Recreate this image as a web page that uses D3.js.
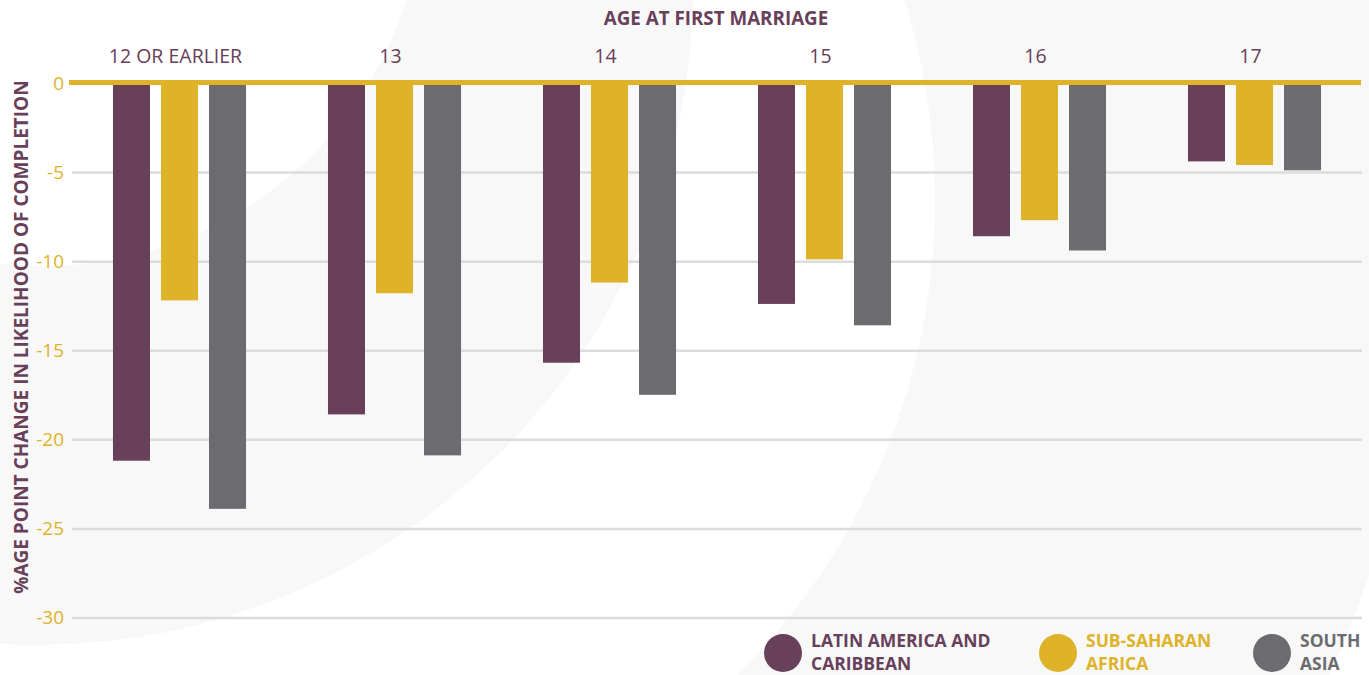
<!DOCTYPE html>
<html>
<head>
<meta charset="utf-8">
<script src="https://cdn.jsdelivr.net/npm/d3@7"></script>
<style>
  body { margin: 0; background: #fff; }
  text { font-family: "Open Sans", "Noto Sans", sans-serif; }
</style>
</head>
<body>
<div id="chart"></div>
<script>
// chart size
var svgWidth = 1369;
var svgHeight = 675;

// data
var categories = ["12 OR EARLIER", "13", "14", "15", "16", "17"];
var seriesNames = ["LATIN AMERICA AND CARIBBEAN", "SUB-SAHARAN AFRICA", "SOUTH ASIA"];
var latinAmerica = [-21.2, -18.6, -15.7, -12.4, -8.6, -4.4];
var subSaharan = [-12.2, -11.8, -11.2, -9.9, -7.7, -4.6];
var southAsia = [-23.9, -20.9, -17.5, -13.6, -9.4, -4.9];
var yTicks = [0, -5, -10, -15, -20, -25, -30];

var colors = ["#68405a", "#deb329", "#6c6c70"];
var purpleText = "#68405a";

var margin = { top: 83, right: 7, bottom: 58, left: 72 };
var chartWidth = svgWidth - margin.left - margin.right;
var chartHeight = svgHeight - margin.top - margin.bottom;

var svg = d3.select("#chart")
  .append("svg")
  .attr("width", svgWidth)
  .attr("height", svgHeight);

// background decoration: light grey rings
function circlePath(cx, cy, r) {
  var p = d3.path();
  p.moveTo(cx + r, cy);
  p.arc(cx, cy, r, 0, 2 * Math.PI);
  p.closePath();
  return p.toString();
}

var bg = svg.append("g");
bg.append("path")
  .attr("fill", "#f8f8f8")
  .attr("fill-rule", "evenodd")
  .attr("d", circlePath(266, 200, 1165) + circlePath(266, 200, 669));
bg.append("path")
  .attr("fill", "#f8f8f8")
  .attr("fill-rule", "evenodd")
  .attr("d", circlePath(36, -12, 657) + circlePath(44, -114, 380));

var chartGroup = svg.append("g")
  .attr("transform", `translate(${margin.left}, ${margin.top})`);

// scales
var x0 = d3.scaleBand()
  .domain(categories)
  .range([0, chartWidth])
  .paddingInner(0.33)
  .paddingOuter(0.165);

var x1 = d3.scaleBand()
  .domain(seriesNames)
  .range([0, x0.bandwidth()])
  .paddingInner(0.229)
  .paddingOuter(0.1145);

var y = d3.scaleLinear()
  .domain([-30, 0])
  .range([chartHeight + 0.5, 0]);

// gridlines + tick labels
var leftAxis = d3.axisLeft(y)
  .tickValues(yTicks)
  .tickSize(-chartWidth)
  .tickFormat(d => String(d));

var yAxisG = chartGroup.append("g").call(leftAxis);
yAxisG.select(".domain").remove();
yAxisG.selectAll("line")
  .attr("stroke", d => d === 0 ? "none" : "#dcdcdc")
  .attr("stroke-width", 2.5);
yAxisG.selectAll("text")
  .attr("fill", "#deb329")
  .style("font-size", "19px")
  .attr("x", -8)
  .attr("dy", "0.32em");

// bars
var rows = categories.map(function(c, i) {
  return { cat: c, values: [latinAmerica[i], subSaharan[i], southAsia[i]] };
});

var groups = chartGroup.selectAll(".grp")
  .data(rows)
  .enter()
  .append("g")
  .attr("transform", d => `translate(${x0(d.cat)}, 0)`);

groups.selectAll("rect")
  .data(d => d.values.map((v, j) => ({ name: seriesNames[j], value: v, j: j })))
  .enter()
  .append("rect")
  .attr("x", d => x1(d.name))
  .attr("y", y(0))
  .attr("width", x1.bandwidth())
  .attr("height", d => y(d.value) - y(0))
  .attr("fill", d => colors[d.j]);

// zero line
chartGroup.append("line")
  .attr("x1", -3)
  .attr("x2", chartWidth - 1)
  .attr("y1", y(0) - 0.5)
  .attr("y2", y(0) - 0.5)
  .attr("stroke", "#deb329")
  .attr("stroke-width", 5);

// category labels on top
var topAxis = d3.axisTop(x0).tickSize(0).tickPadding(0);
var topG = chartGroup.append("g").call(topAxis);
topG.select(".domain").remove();
topG.selectAll("text")
  .attr("y", -20)
  .attr("dx", -4)
  .attr("fill", purpleText)
  .style("font-size", "19.5px");

// title
svg.append("text")
  .attr("x", 716)
  .attr("y", 25)
  .attr("text-anchor", "middle")
  .attr("fill", purpleText)
  .style("font-size", "18.8px")
  .style("font-weight", "700")
  .text("AGE AT FIRST MARRIAGE");

// y label
svg.append("text")
  .attr("transform", "translate(28, 337) rotate(-90)")
  .attr("text-anchor", "middle")
  .attr("fill", purpleText)
  .style("font-size", "19px")
  .style("font-weight", "700")
  .text("%AGE POINT CHANGE IN LIKELIHOOD OF COMPLETION");

// legend (two lines per entry, as separate texts)
var legendItems = [
  { lines: ["LATIN AMERICA AND", "CARIBBEAN"], cx: 783, color: colors[0] },
  { lines: ["SUB-SAHARAN", "AFRICA"], cx: 1058, color: colors[1] },
  { lines: ["SOUTH", "ASIA"], cx: 1272, color: colors[2] }
];
var legend = svg.append("g");
legendItems.forEach(function(item) {
  legend.append("circle")
    .attr("cx", item.cx)
    .attr("cy", 653)
    .attr("r", 19)
    .attr("fill", item.color);
  item.lines.forEach(function(l, k) {
    legend.append("text")
      .attr("x", item.cx + 28)
      .attr("y", 647 + k * 23)
      .attr("fill", item.color)
      .style("font-size", "17.5px")
      .style("font-weight", "700")
      .text(l);
  });
});
</script>
</body>
</html>
